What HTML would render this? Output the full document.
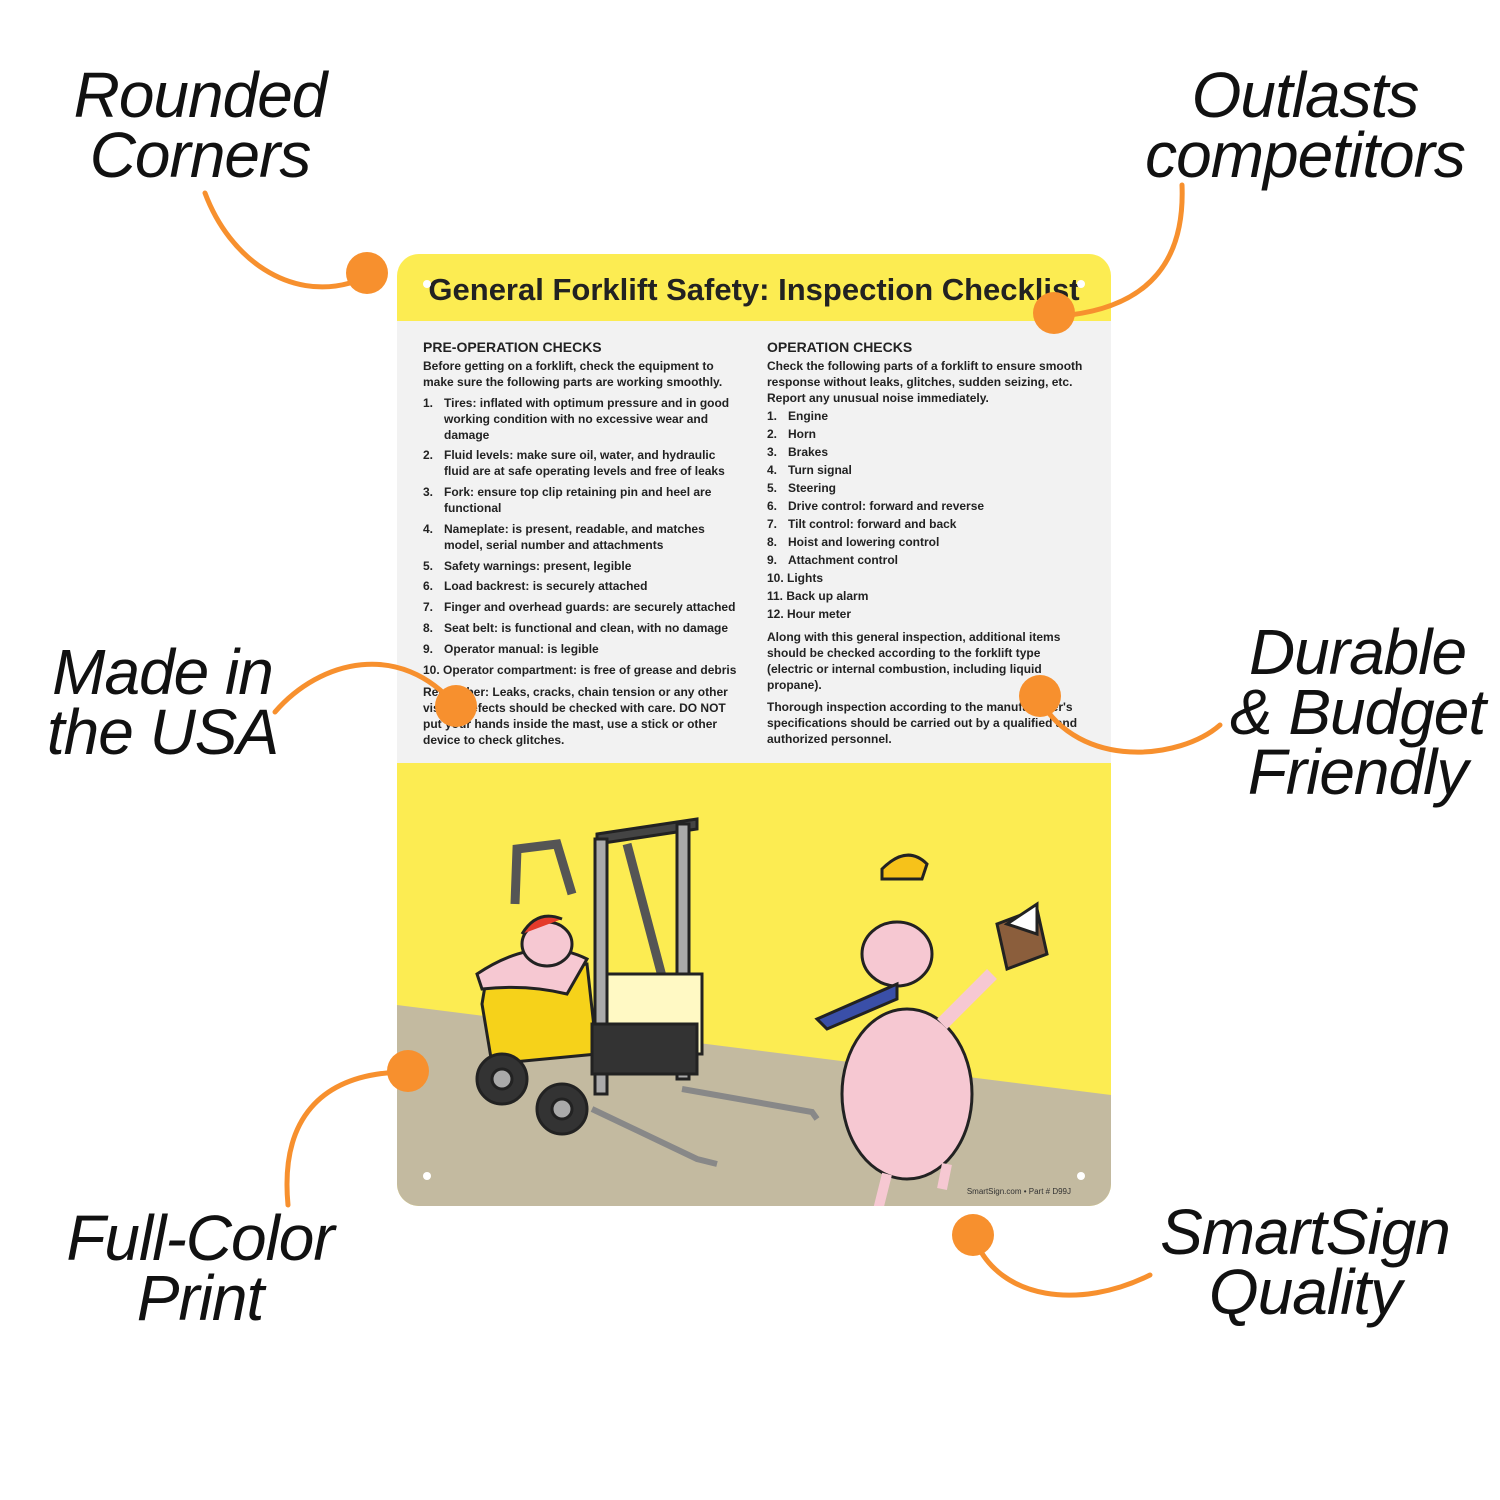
<!DOCTYPE html>
<html><head><meta charset="utf-8"><style>
html,body{margin:0;padding:0;background:#fff;width:1500px;height:1500px;overflow:hidden;position:relative;font-family:"Liberation Sans",sans-serif}
.call{position:absolute;font-style:italic;font-size:64px;color:#111;text-align:center;line-height:60px;letter-spacing:-1px}
.sign{position:absolute;left:397px;top:254px;width:714px;height:952px;border-radius:22px;overflow:hidden;background:#fcec52}
.t{position:absolute;font-size:12px;font-weight:bold;color:#222;white-space:nowrap;line-height:16px}
.h{font-size:14px}
.n{display:inline-block;width:21px}
</style></head><body>
<svg width="1500" height="1500" style="position:absolute;left:0;top:0;z-index:3" fill="none" stroke="#f7902e" stroke-width="5" stroke-linecap="round">
<path d="M205,193 C230,260 290,300 350,283"/>
<path d="M1182,185 C1185,260 1150,305 1070,315"/>
<path d="M275,712 C320,660 400,640 456,706"/>
<path d="M1220,725 C1180,760 1080,770 1040,700"/>
<path d="M288,1205 C280,1120 320,1075 400,1072"/>
<path d="M1150,1275 C1080,1310 1000,1300 975,1240"/>
<g fill="#f7902e" stroke="none">
<circle cx="367" cy="273" r="21"/><circle cx="1054" cy="313" r="21"/><circle cx="456" cy="706" r="21"/>
<circle cx="1040" cy="696" r="21"/><circle cx="408" cy="1071" r="21"/><circle cx="973" cy="1235" r="21"/></g>
</svg>
<div class="call" style="left:50px;top:65px;width:300px">Rounded<br>Corners</div>
<div class="call" style="left:1120px;top:65px;width:370px">Outlasts<br>competitors</div>
<div class="call" style="left:30px;top:642px;width:265px">Made in<br>the USA</div>
<div class="call" style="left:1220px;top:622px;width:275px">Durable<br>&amp; Budget<br>Friendly</div>
<div class="call" style="left:50px;top:1208px;width:300px">Full-Color<br>Print</div>
<div class="call" style="left:1150px;top:1202px;width:310px">SmartSign<br>Quality</div>

<div class="sign">
<div style="position:absolute;left:0;top:67px;width:714px;height:442px;background:#f2f2f2"></div>
<div style="position:absolute;left:0;top:16px;width:714px;text-align:center;font-size:31px;font-weight:bold;color:#222;line-height:40px">General Forklift Safety: Inspection Checklist</div>
<svg width="714" height="952" style="position:absolute;left:0;top:0">
<polygon points="0,751 714,841 714,952 0,952" fill="#c3baa0"/>
<circle cx="30" cy="922" r="4" fill="#fff"/><circle cx="684" cy="922" r="4" fill="#fff"/>
<circle cx="30" cy="30" r="4" fill="#fff"/><circle cx="684" cy="30" r="4" fill="#fff"/>
<g stroke="#222" stroke-width="3">
<path d="M118,650 L120,595 L160,590 L175,640" fill="none" stroke="#555" stroke-width="9"/>
<path d="M200,580 L300,565 L300,575 L200,590Z" fill="#444"/>
<rect x="198" y="585" width="12" height="255" fill="#aaa"/>
<rect x="280" y="570" width="12" height="255" fill="#aaa"/>
<path d="M230,590 L275,760" stroke="#555" stroke-width="9"/>
<path d="M85,750 L90,720 L190,710 L200,800 L95,810Z" fill="#f6d21a"/>
<rect x="210" y="720" width="95" height="80" fill="#fff9c4"/>
<rect x="195" y="770" width="105" height="50" fill="#333"/>
<circle cx="105" cy="825" r="25" fill="#333"/><circle cx="105" cy="825" r="10" fill="#aaa"/>
<circle cx="165" cy="855" r="25" fill="#333"/><circle cx="165" cy="855" r="10" fill="#aaa"/>
<path d="M195,855 L300,905 L320,910 M285,835 L415,858 L420,865" fill="none" stroke="#888" stroke-width="6"/>
<path d="M80,720 Q140,680 190,705 L170,740 Q130,730 85,735Z" fill="#f6c8d2"/>
<ellipse cx="150" cy="690" rx="25" ry="22" fill="#f6c8d2"/>
<path d="M125,680 Q140,655 165,665" fill="#e53b2b"/>
</g>
<g stroke="#222" stroke-width="3">
<ellipse cx="510" cy="840" rx="65" ry="85" fill="#f6c8d2"/>
<ellipse cx="500" cy="700" rx="35" ry="32" fill="#f6c8d2"/>
<path d="M500,730 L420,765 L430,775 L500,745Z" fill="#3a4fa8"/>
<path d="M545,770 L595,720" stroke-width="14" stroke="#f6c8d2"/>
<path d="M490,920 L480,960 M550,910 L545,935" stroke-width="10" stroke="#f6c8d2"/>
<path d="M600,670 L640,655 L650,700 L610,715Z" fill="#8b5e3c"/>
<path d="M610,670 L640,650 L640,680Z" fill="#fff"/>
<path d="M485,615 Q510,590 530,610 L525,625 L485,625Z" fill="#f6c21a"/>
</g>
</svg>
<div style="position:absolute;right:40px;top:933px;font-size:8px;color:#333">SmartSign.com • Part # D99J</div>
</div>

<div class="t h" style="left:423px;top:339px">PRE-OPERATION CHECKS</div>
<div class="t" style="left:423px;top:358px">Before getting on a forklift, check the equipment to</div>
<div class="t" style="left:423px;top:374px">make sure the following parts are working smoothly.</div>
<div class="t" style="left:423px;top:395px"><span class="n">1.</span>Tires: inflated with optimum pressure and in good</div>
<div class="t" style="left:444px;top:411px">working condition with no excessive wear and</div>
<div class="t" style="left:444px;top:427px">damage</div>
<div class="t" style="left:423px;top:447px"><span class="n">2.</span>Fluid levels: make sure oil, water, and hydraulic</div>
<div class="t" style="left:444px;top:463px">fluid are at safe operating levels and free of leaks</div>
<div class="t" style="left:423px;top:484px"><span class="n">3.</span>Fork: ensure top clip retaining pin and heel are</div>
<div class="t" style="left:444px;top:500px">functional</div>
<div class="t" style="left:423px;top:521px"><span class="n">4.</span>Nameplate: is present, readable, and matches</div>
<div class="t" style="left:444px;top:537px">model, serial number and attachments</div>
<div class="t" style="left:423px;top:558px"><span class="n">5.</span>Safety warnings: present, legible</div>
<div class="t" style="left:423px;top:578px"><span class="n">6.</span>Load backrest: is securely attached</div>
<div class="t" style="left:423px;top:599px"><span class="n">7.</span>Finger and overhead guards: are securely attached</div>
<div class="t" style="left:423px;top:620px"><span class="n">8.</span>Seat belt: is functional and clean, with no damage</div>
<div class="t" style="left:423px;top:641px"><span class="n">9.</span>Operator manual: is legible</div>
<div class="t" style="left:423px;top:662px">10. Operator compartment: is free of grease and debris</div>
<div class="t" style="left:423px;top:684px">Remember: Leaks, cracks, chain tension or any other</div>
<div class="t" style="left:423px;top:700px">visible defects should be checked with care. DO NOT</div>
<div class="t" style="left:423px;top:716px">put your hands inside the mast, use a stick or other</div>
<div class="t" style="left:423px;top:732px">device to check glitches.</div>

<div class="t h" style="left:767px;top:339px">OPERATION CHECKS</div>
<div class="t" style="left:767px;top:358px">Check the following parts of a forklift to ensure smooth</div>
<div class="t" style="left:767px;top:374px">response without leaks, glitches, sudden seizing, etc.</div>
<div class="t" style="left:767px;top:390px">Report any unusual noise immediately.</div>
<div class="t" style="left:767px;top:408px"><span class="n">1.</span>Engine</div>
<div class="t" style="left:767px;top:426px"><span class="n">2.</span>Horn</div>
<div class="t" style="left:767px;top:444px"><span class="n">3.</span>Brakes</div>
<div class="t" style="left:767px;top:462px"><span class="n">4.</span>Turn signal</div>
<div class="t" style="left:767px;top:480px"><span class="n">5.</span>Steering</div>
<div class="t" style="left:767px;top:498px"><span class="n">6.</span>Drive control: forward and reverse</div>
<div class="t" style="left:767px;top:516px"><span class="n">7.</span>Tilt control: forward and back</div>
<div class="t" style="left:767px;top:534px"><span class="n">8.</span>Hoist and lowering control</div>
<div class="t" style="left:767px;top:552px"><span class="n">9.</span>Attachment control</div>
<div class="t" style="left:767px;top:570px">10. Lights</div>
<div class="t" style="left:767px;top:588px">11. Back up alarm</div>
<div class="t" style="left:767px;top:606px">12. Hour meter</div>
<div class="t" style="left:767px;top:629px">Along with this general inspection, additional items</div>
<div class="t" style="left:767px;top:645px">should be checked according to the forklift type</div>
<div class="t" style="left:767px;top:661px">(electric or internal combustion, including liquid</div>
<div class="t" style="left:767px;top:677px">propane).</div>
<div class="t" style="left:767px;top:699px">Thorough inspection according to the manufacturer's</div>
<div class="t" style="left:767px;top:715px">specifications should be carried out by a qualified and</div>
<div class="t" style="left:767px;top:731px">authorized personnel.</div>
</body></html>
